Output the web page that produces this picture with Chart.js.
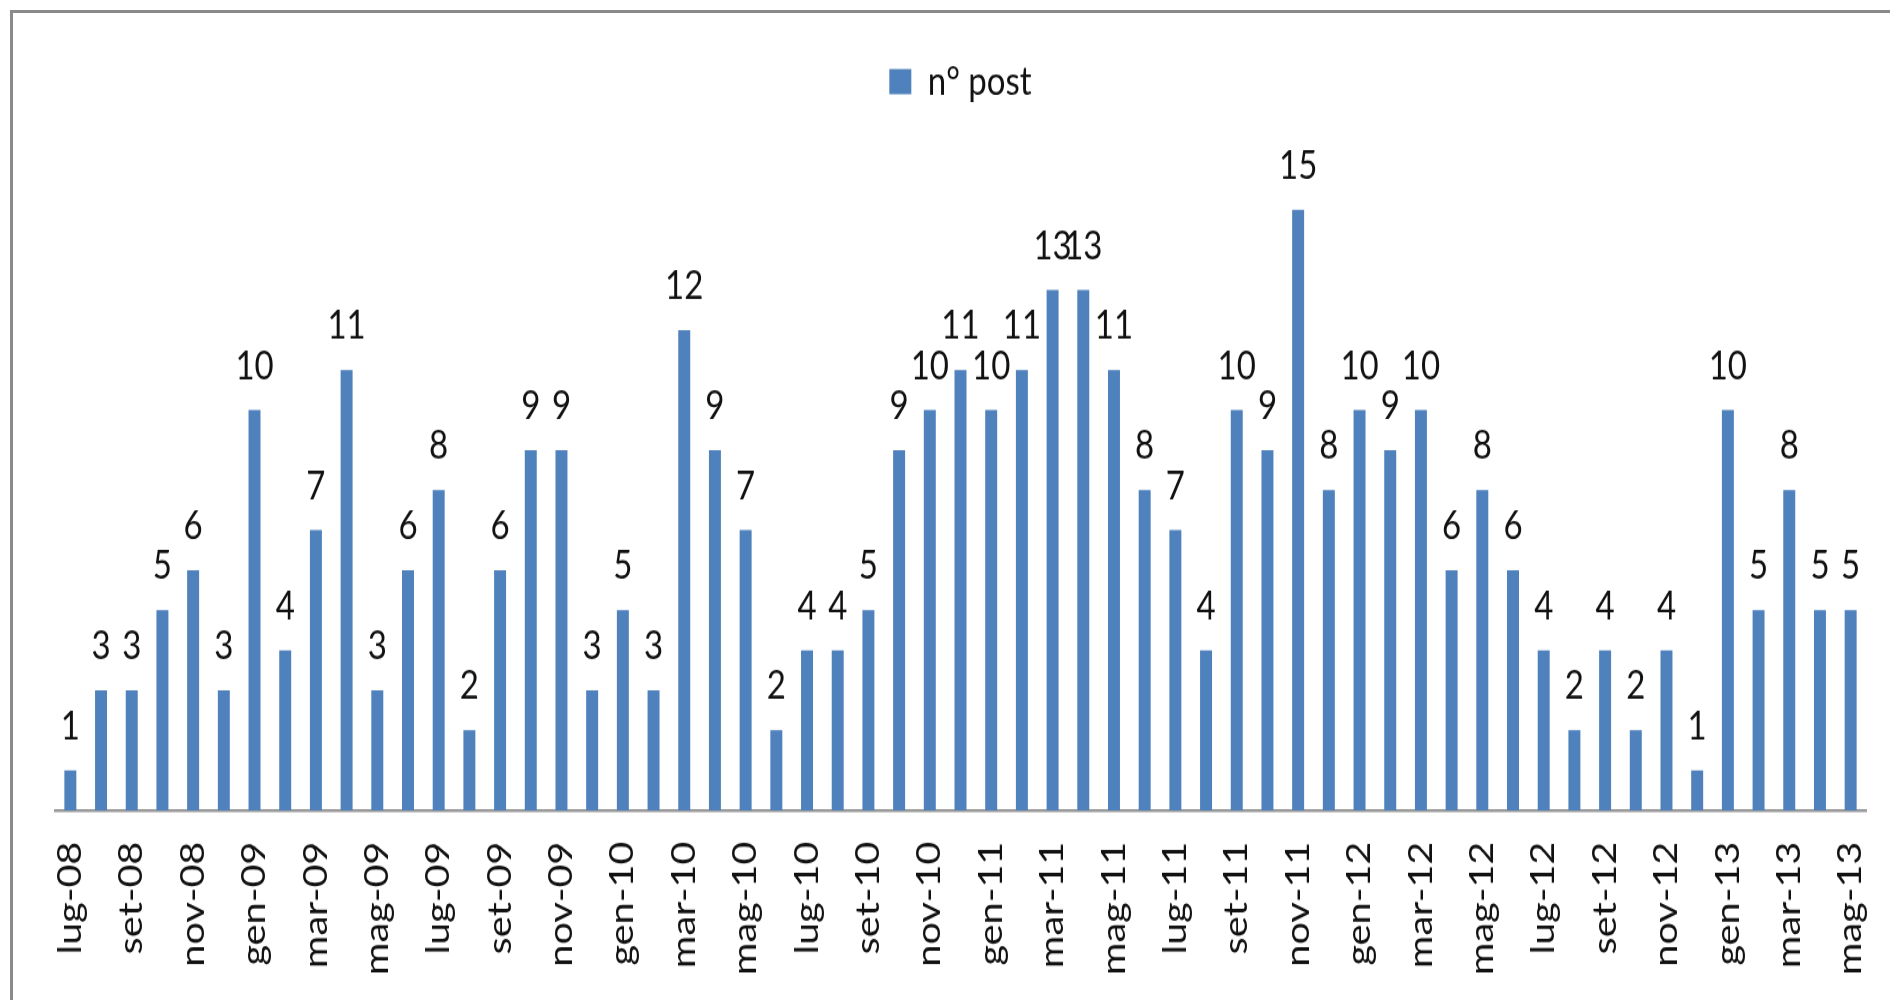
<!DOCTYPE html>
<html><head><meta charset="utf-8">
<script src="https://cdn.jsdelivr.net/npm/chart.js@4.4.1/dist/chart.umd.min.js"></script>
<style>
html,body{margin:0;padding:0;background:#fff;overflow:hidden;width:1890px;height:1000px;}
#frame{position:absolute;left:10px;top:10px;width:2000px;height:2000px;border-left:3px solid #8a8a8a;border-top:3px solid #8a8a8a;}
#c{position:absolute;left:0;top:0;}
</style></head><body>
<div id="frame"></div>
<canvas id="c" width="1890" height="833" style="width:1890px;height:1000px;"></canvas>
<script>
const categories = [
  'lug-08','ago-08','set-08','ott-08','nov-08','dic-08',
  'gen-09','feb-09','mar-09','apr-09','mag-09','giu-09','lug-09','ago-09','set-09','ott-09','nov-09','dic-09',
  'gen-10','feb-10','mar-10','apr-10','mag-10','giu-10','lug-10','ago-10','set-10','ott-10','nov-10','dic-10',
  'gen-11','feb-11','mar-11','apr-11','mag-11','giu-11','lug-11','ago-11','set-11','ott-11','nov-11','dic-11',
  'gen-12','feb-12','mar-12','apr-12','mag-12','giu-12','lug-12','ago-12','set-12','ott-12','nov-12','dic-12',
  'gen-13','feb-13','mar-13','apr-13','mag-13'
];
const postCounts = [
  1,3,3,5,6,3,
  10,4,7,11,3,6,8,2,6,9,9,3,
  5,3,12,9,7,2,4,4,5,9,10,11,
  10,11,13,13,11,8,7,4,10,9,15,8,
  10,9,10,6,8,6,4,2,4,2,4,1,
  10,5,8,5,5
];
const seriesName = 'n° post';

const FONT = 'Lato';
const valueLabels = {
  id: 'valueLabels',
  afterDatasetsDraw(chart) {
    const ctx = chart.ctx;
    const meta = chart.getDatasetMeta(0);
    ctx.save();
    ctx.font = '33px ' + FONT;
    ctx.fillStyle = '#111';
    ctx.textAlign = 'center';
    ctx.textBaseline = 'alphabetic';
    meta.data.forEach((bar, i) => {
      ctx.fillText(String(postCounts[i]), bar.x, bar.y - 26);
    });
    ctx.restore();
  }
};

function draw() {
  new Chart(document.getElementById('c'), {
    type: 'bar',
    data: {
      labels: categories,
      datasets: [{
        label: seriesName,
        data: postCounts,
        backgroundColor: '#4F81BD',
        borderWidth: 0,
        barPercentage: 0.39,
        categoryPercentage: 1
      }]
    },
    options: {
      responsive: false,
      devicePixelRatio: 1,
      animation: false,
      layout: { padding: { top: 30, left: 55, right: 24, bottom: 0 } },
      plugins: {
        tooltip: { enabled: false },
        legend: {
          position: 'top',
          labels: {
            font: { family: FONT, size: 33 },
            color: '#111',
            boxWidth: 22,
            boxHeight: 21,
            padding: 21.5
          }
        }
      },
      scales: {
        x: {
          grid: { display: true, color: 'rgba(0,0,0,0)', drawTicks: false },
          border: { display: true, color: '#9a9a9a', width: 2.5 },
          ticks: {
            autoSkip: false,
            minRotation: 90,
            maxRotation: 90,
            padding: 26,
            color: '#111',
            font: { family: FONT, size: 33 },
            callback: function (v, i) { return i % 2 === 0 ? categories[i] : ''; }
          },
          afterFit: function (scale) {
            scale.height = 158;
            scale.paddingLeft = 0;
            scale.paddingRight = 0;
          }
        },
        y: {
          display: false,
          min: 0,
          max: 17.41
        }
      }
    },
    plugins: [valueLabels]
  });
}
if (document.fonts && document.fonts.load) {
  document.fonts.load('33px ' + FONT).then(draw, draw);
} else { draw(); }
</script>
</body></html>
